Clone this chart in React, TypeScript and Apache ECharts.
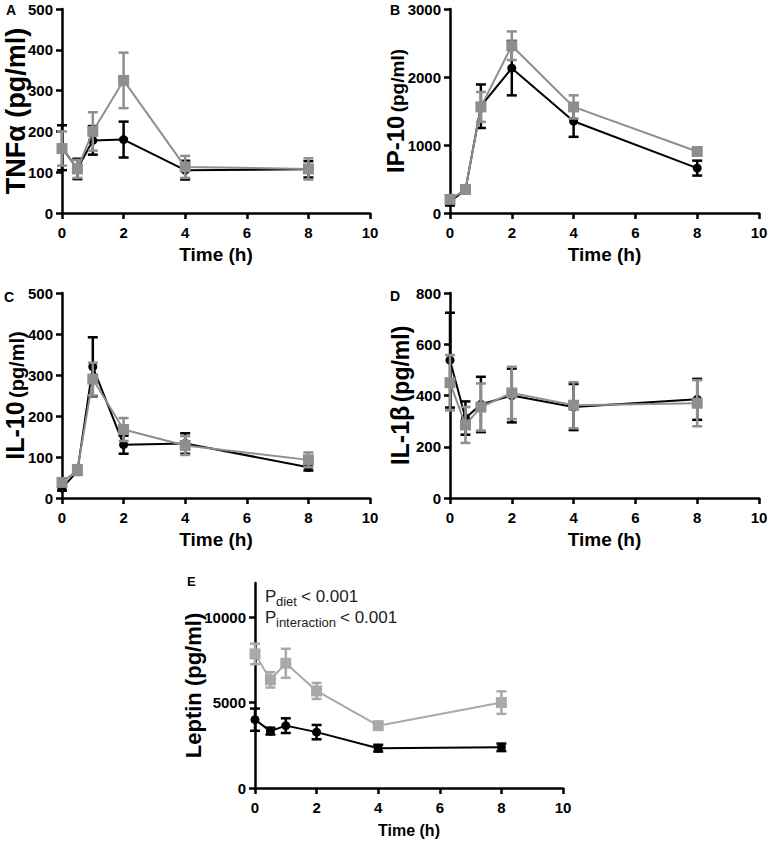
import React, { useEffect, useRef } from "react";
import * as echarts from "echarts";

const timeH = [0, 0.5, 1, 2, 4, 8];

// Panel A: TNFα
const tnfBlack = [160, 108, 178, 180, 105, 107];
const tnfBlackSem = [55, 25, 35, 44, 23, 20];
const tnfGray = [158, 108, 200, 325, 113, 108];
const tnfGraySem = [42, 22, 47, 68, 27, 26];

// Panel B: IP-10
const ipBlack = [170, 340, 1570, 2130, 1350, 660];
const ipBlackSem = [60, 30, 320, 400, 230, 110];
const ipGray = [200, 345, 1560, 2460, 1560, 905];
const ipGraySem = [50, 25, 220, 210, 170, 50];

// Panel C: IL-10
const il10Black = [24, 65, 320, 130, 133, 75];
const il10BlackSem = [6, 8, 72, 22, 25, 8];
const il10Gray = [38, 68, 290, 167, 128, 93];
const il10GraySem = [8, 12, 40, 28, 23, 18];

// Panel D: IL-1β
const il1bBlack = [538, 312, 365, 400, 355, 385];
const il1bBlackSem = [185, 65, 108, 105, 90, 80];
const il1bGray = [450, 285, 355, 410, 362, 370];
const il1bGraySem = [108, 70, 92, 102, 90, 90];

// Panel E: Leptin
const lepBlack = [4000, 3330, 3650, 3270, 2330, 2380];
const lepBlackSem = [650, 200, 430, 420, 200, 220];
const lepGray = [7850, 6330, 7300, 5680, 3650, 5000];
const lepGraySem = [600, 450, 850, 470, 200, 660];

const yTicksE = [0, 5000, 10000];

const FONT = "'Liberation Sans', Arial, Helvetica, sans-serif";
const BLACK = "#000000";
const GRAY = "#8e8e8e";
const GRAY_E = "#a9a9a9";

const plain = (v: number) => String(v);

function errSeries(gi: number, xs: number[], means: number[], sems: number[], color: string, z: number) {
  return {
    type: "custom",
    xAxisIndex: gi,
    yAxisIndex: gi,
    z,
    silent: true,
    clip: false,
    data: xs.map((x, i) => [x, means[i] - sems[i], means[i] + sems[i]]),
    encode: { x: 0, y: [1, 2] },
    renderItem: (params: any, api: any) => {
      const lo = api.coord([api.value(0), api.value(1)]);
      const hi = api.coord([api.value(0), api.value(2)]);
      const w = 5;
      const st = { stroke: color, lineWidth: 2.5 };
      return {
        type: "group",
        children: [
          { type: "line", shape: { x1: lo[0], y1: lo[1], x2: hi[0], y2: hi[1] }, style: st },
          { type: "line", shape: { x1: lo[0] - w, y1: lo[1], x2: lo[0] + w, y2: lo[1] }, style: st },
          { type: "line", shape: { x1: hi[0] - w, y1: hi[1], x2: hi[0] + w, y2: hi[1] }, style: st },
        ],
      };
    },
  };
}

function lineSeries(gi: number, xs: number[], means: number[], color: string, symbol: string, size: number, z: number) {
  return {
    type: "line",
    xAxisIndex: gi,
    yAxisIndex: gi,
    z,
    silent: true,
    data: xs.map((x, i) => [x, means[i]]),
    symbol,
    symbolSize: size,
    showSymbol: true,
    lineStyle: { color, width: 2 },
    itemStyle: { color, borderWidth: 0 },
  };
}

function xAxisCfg(gi: number, labelSize: number, nameSize: number, nameGap: number) {
  return {
    type: "value",
    gridIndex: gi,
    min: 0,
    max: 10,
    interval: 2,
    name: "Time (h)",
    nameLocation: "middle",
    nameGap,
    nameMoveOverlap: false,
    nameTextStyle: { fontSize: nameSize, fontWeight: "bold", color: "#000", fontFamily: FONT },
    axisLine: { show: true, onZero: false, lineStyle: { color: "#000", width: 2.5 } },
    axisTick: { show: true, length: 6, lineStyle: { color: "#000", width: 2.5 } },
    axisLabel: {
      fontSize: labelSize,
      fontWeight: "bold",
      color: "#000",
      margin: 12,
      fontFamily: FONT,
      formatter: plain,
    },
    splitLine: { show: false },
  };
}

function yAxisCfg(gi: number, max: number, interval: number, name: string, rich: any, nameGap: number, extra: any = {}) {
  return {
    type: "value",
    gridIndex: gi,
    min: 0,
    max,
    interval,
    name,
    nameLocation: "middle",
    nameGap,
    nameRotate: 90,
    nameMoveOverlap: false,
    nameTextStyle: { fontFamily: FONT, fontWeight: "bold", color: "#000", rich },
    axisLine: { show: true, onZero: false, lineStyle: { color: "#000", width: 2.5 } },
    axisTick: { show: true, length: 6, lineStyle: { color: "#000", width: 2.5 }, ...(extra.tick || {}) },
    axisLabel: {
      fontSize: 15,
      fontWeight: "bold",
      color: "#000",
      margin: 9,
      fontFamily: FONT,
      formatter: plain,
      ...(extra.label || {}),
    },
    splitLine: { show: false },
  };
}

function bigSmall(big: number, small: number) {
  return {
    a: { fontSize: big, fontWeight: "bold", fontFamily: FONT, color: "#000", verticalAlign: "bottom", lineHeight: big },
    b: { fontSize: small, fontWeight: "bold", fontFamily: FONT, color: "#000", verticalAlign: "bottom", lineHeight: big },
  };
}

export default function App() {
  const ref = useRef<HTMLDivElement>(null);
  useEffect(() => {
    document.body.style.margin = "0";
    if (!ref.current) return;
    const chart = echarts.init(ref.current, undefined, { renderer: "svg" });
    const grids = [
      { left: 62, top: 9, width: 308, height: 204 },
      { left: 450, top: 9, width: 309, height: 204 },
      { left: 62, top: 293, width: 308, height: 205 },
      { left: 450, top: 293, width: 309, height: 205 },
      { left: 255, top: 583, width: 308, height: 205 },
    ].map((g) => ({ ...g, containLabel: false, outerBoundsMode: "none" }));

    const panelLabel = (text: string, x: number, y: number, size = 14) => ({
      type: "text",
      x,
      y,
      style: { text, fontSize: size, fontWeight: "bold", fill: "#000", fontFamily: FONT },
    });
    // positioned by baseline: middle of box ≈ baseline - 0.35em
    const txt = (text: string, x: number, baseline: number, size: number) => ({
      type: "text",
      x,
      y: baseline - 0.35 * size,
      style: { text, fontSize: size, fill: "#222", fontFamily: FONT, verticalAlign: "middle", align: "left" },
    });

    const option: any = {
      animation: false,
      textStyle: { fontFamily: FONT },
      grid: grids,
      xAxis: [
        xAxisCfg(0, 15, 19, 32),
        xAxisCfg(1, 15, 19, 32),
        xAxisCfg(2, 15, 19, 32),
        xAxisCfg(3, 15, 19, 32),
        xAxisCfg(4, 15, 16, 34),
      ],
      yAxis: [
        yAxisCfg(0, 500, 100, "{a|TNFα (pg/ml)}", bigSmall(27, 27), 33),
        yAxisCfg(1, 3000, 1000, "{a|IP-10} {b|(pg/ml)}", bigSmall(24, 19), 43),
        yAxisCfg(2, 500, 100, "{a|IL-10} {b|(pg/ml)}", bigSmall(25, 20), 35),
        yAxisCfg(3, 800, 200, "{a|IL-1β} {b|(pg/ml)}", bigSmall(25, 23), 38),
        yAxisCfg(4, 12000, 5000, "{a|Leptin (pg/ml)}", bigSmall(22, 22), 51, {
          tick: { customValues: yTicksE },
          label: { customValues: yTicksE },
        }),
      ],
      series: [
        errSeries(0, timeH, tnfBlack, tnfBlackSem, BLACK, 2),
        lineSeries(0, timeH, tnfBlack, BLACK, "circle", 9, 3),
        errSeries(0, timeH, tnfGray, tnfGraySem, GRAY, 4),
        lineSeries(0, timeH, tnfGray, GRAY, "rect", 11, 5),

        errSeries(1, timeH, ipBlack, ipBlackSem, BLACK, 2),
        lineSeries(1, timeH, ipBlack, BLACK, "circle", 9, 3),
        errSeries(1, timeH, ipGray, ipGraySem, GRAY, 4),
        lineSeries(1, timeH, ipGray, GRAY, "rect", 11, 5),

        errSeries(2, timeH, il10Black, il10BlackSem, BLACK, 2),
        lineSeries(2, timeH, il10Black, BLACK, "circle", 9, 3),
        errSeries(2, timeH, il10Gray, il10GraySem, GRAY, 4),
        lineSeries(2, timeH, il10Gray, GRAY, "rect", 11, 5),

        errSeries(3, timeH, il1bBlack, il1bBlackSem, BLACK, 2),
        lineSeries(3, timeH, il1bBlack, BLACK, "circle", 9, 3),
        errSeries(3, timeH, il1bGray, il1bGraySem, GRAY, 4),
        lineSeries(3, timeH, il1bGray, GRAY, "rect", 11, 5),

        errSeries(4, timeH, lepBlack, lepBlackSem, BLACK, 2),
        lineSeries(4, timeH, lepBlack, BLACK, "circle", 9, 3),
        errSeries(4, timeH, lepGray, lepGraySem, GRAY_E, 4),
        lineSeries(4, timeH, lepGray, GRAY_E, "rect", 11, 5),
      ],
      graphic: [
        panelLabel("A", 6, 3),
        panelLabel("B", 390, 3),
        panelLabel("C", 4, 290),
        panelLabel("D", 390, 289),
        panelLabel("E", 187, 575, 13),
        txt("P", 265, 602, 17),
        txt("diet", 276, 606, 13),
        txt("< 0.001", 301, 602, 17),
        txt("P", 265, 623, 17),
        txt("interaction", 276, 627, 13),
        txt("< 0.001", 340, 623, 17),
      ],
    };
    chart.setOption(option);
    return () => chart.dispose();
  }, []);
  return <div ref={ref} style={{ width: 768, height: 842 }} />;
}
